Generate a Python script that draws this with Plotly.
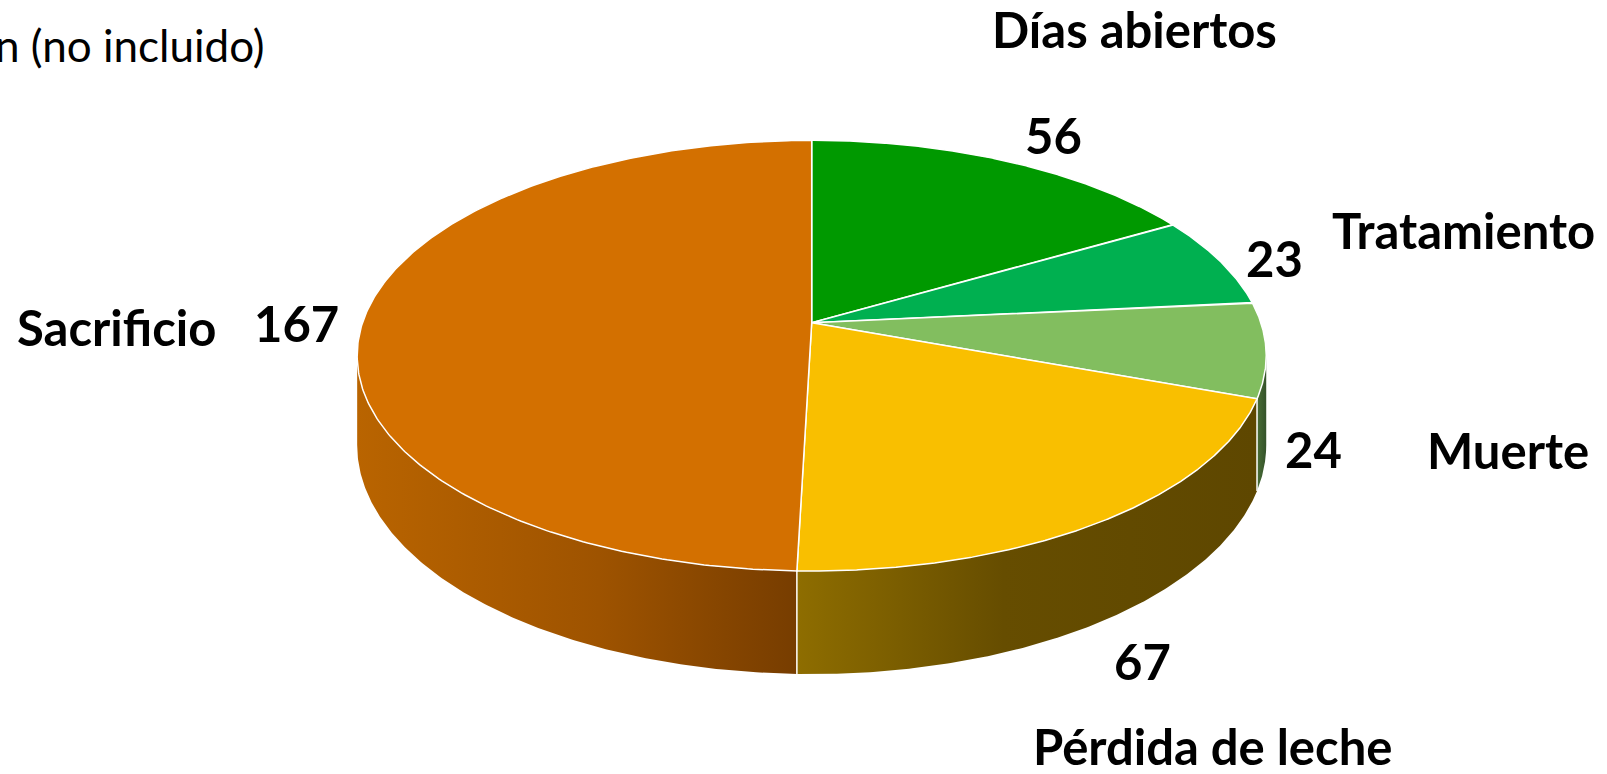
import numpy as np
import plotly.graph_objects as go

# ---------------- data ----------------
categories = ["Días abiertos", "Tratamiento", "Muerte", "Pérdida de leche", "Sacrificio"]
values = [56, 23, 24, 67, 167]
top_colors = ["#009900", "#00B050", "#82BE5F", "#F9BF00", "#D37000"]
side_scales = [
    [[0, "#006400"], [1, "#004400"]],
    [[0, "#007A38"], [1, "#005428"]],
    [[0, "#4A6E36"], [1, "#34522A"]],
    [[0, "#8E6D00"], [0.45, "#664D00"], [1, "#5E4700"]],
    [[0, "#B96400"], [0.55, "#9E5300"], [1, "#773D00"]],
]
note_text = "n (no incluido)"

# label layout (pixel positions of name and value for each category)
name_pos = [(1134, 29), (1463, 230), (1508, 450), (1212, 746), (116, 327)]
value_pos = [(1053, 135), (1274, 258), (1313, 449), (1142, 661), (296, 323)]

# ---------------- geometry (perspective disk) ----------------
W, Hgt = 1607, 774
CX, CY = 811.7, 322.8   # projected centre
A, B = 449.2, 210.3     # horizontal / vertical radii
P = 0.1527              # perspective factor
TH = 87.3               # thickness


def proj(theta_deg, drop=0.0):
    t = np.radians(theta_deg)
    u, v = np.sin(t), np.cos(t)
    w = 1 + P * v
    return CX + A * u / w, CY - B * v / w + drop * TH / w


total = float(sum(values))
bounds = np.concatenate([[0], np.cumsum(values) / total * 360.0])
sil1 = np.degrees(np.arccos(-P))
sil2 = 360.0 - sil1

fig = go.Figure()

# side faces
for i in range(len(values)):
    a, b = max(bounds[i], sil1), min(bounds[i + 1], sil2)
    if b <= a:
        continue
    th = np.linspace(a, b, 200)
    xt, yt = proj(th)
    xb, yb = proj(th[::-1], 1.0)
    fig.add_trace(go.Scatter(
        x=np.concatenate([xt, xb, xt[:1]]), y=np.concatenate([yt, yb, yt[:1]]),
        mode="lines", fill="toself", line=dict(width=0),
        fillgradient=dict(type="horizontal", colorscale=side_scales[i]),
        hoverinfo="skip", showlegend=False))

# vertical edges between visible side faces
for ang in bounds[1:-1]:
    if sil1 < ang < sil2:
        x0, y0 = proj(ang)
        x1, y1 = proj(ang, 1.0)
        fig.add_trace(go.Scatter(x=[x0, x1], y=[y0, y1], mode="lines",
                                 line=dict(color="white", width=1.5),
                                 hoverinfo="skip", showlegend=False))

# top faces
for i in range(len(values)):
    th = np.linspace(bounds[i], bounds[i + 1], 300)
    xs, ys = proj(th)
    fig.add_trace(go.Scatter(
        x=np.concatenate([[CX], xs, [CX]]), y=np.concatenate([[CY], ys, [CY]]),
        mode="lines", fill="toself", fillcolor=top_colors[i],
        line=dict(color="white", width=1.5),
        hoverinfo="skip", showlegend=False, name=categories[i]))

# labels
bold = dict(family="Lato, 'Open Sans', sans-serif", size=49, color="black")
for i, cat in enumerate(categories):
    fig.add_annotation(x=name_pos[i][0], y=name_pos[i][1], text="<b>%s</b>" % cat,
                       showarrow=False, font=bold, xanchor="center", yanchor="middle")
    fig.add_annotation(x=value_pos[i][0], y=value_pos[i][1], text="<b>%d</b>" % values[i],
                       showarrow=False, font=bold, xanchor="center", yanchor="middle")

fig.add_annotation(x=0, y=45, text=note_text, showarrow=False, xanchor="left",
                   yanchor="middle", xshift=-7,
                   font=dict(family="Lato, 'Open Sans', sans-serif", size=44, color="black"))

fig.update_layout(
    width=W, height=Hgt, margin=dict(l=0, r=0, t=0, b=0),
    paper_bgcolor="white", plot_bgcolor="white",
    xaxis=dict(range=[0, W], visible=False, fixedrange=True),
    yaxis=dict(range=[Hgt, 0], visible=False, fixedrange=True),
    showlegend=False,
)

fig.write_html("out.html", config={"displayModeBar": False},
               post_script="document.body.style.margin='0';")
